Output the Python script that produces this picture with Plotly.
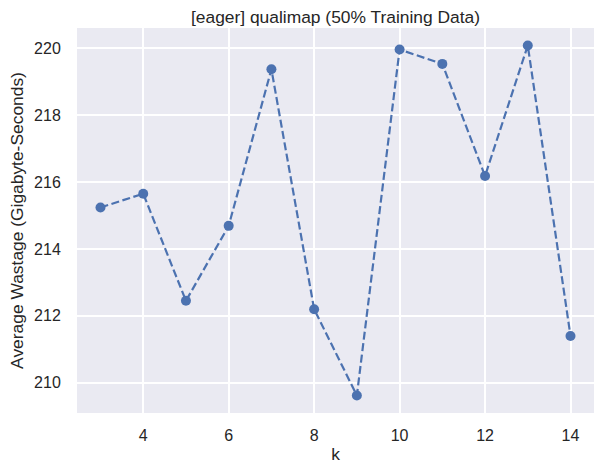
import plotly.graph_objects as go

k_values = [3, 4, 5, 6, 7, 8, 9, 10, 11, 12, 13, 14]
avg_wastage = [215.24, 215.65, 212.45, 214.69, 219.37, 212.20, 209.62, 219.96, 219.53, 216.18, 220.08, 211.40]
y_ticks = [210, 212, 214, 216, 218, 220]
x_ticks = [4, 6, 8, 10, 12, 14]

blue = "#4C72B0"
text_color = "#262626"
font_family = "Liberation Sans, Arial, sans-serif"

def padded(vals, frac=0.05):
    lo, hi = min(vals), max(vals)
    p = (hi - lo) * frac
    return [lo - p, hi + p]

fig = go.Figure()
fig.add_trace(go.Scatter(
    x=k_values, y=avg_wastage, mode="lines+markers",
    line=dict(color=blue, width=2.2, dash="8px,3.5px"),
    marker=dict(color=blue, size=10),
    showlegend=False,
))

fig.update_layout(
    width=597, height=466,
    margin=dict(l=77, r=3, t=28, b=53),
    paper_bgcolor="white",
    plot_bgcolor="#EAEAF2",
    font=dict(family=font_family, color=text_color, size=16),
    title=dict(
        text="[eager] qualimap (50% Training Data)",
        x=(77 + 594) / 2 / 597, xanchor="center",
        y=1 - 16.5 / 466, yanchor="middle",
        font=dict(size=17.4, color=text_color, family=font_family),
    ),
    xaxis=dict(
        range=padded(k_values), tickvals=x_ticks,
        showgrid=True, gridcolor="white", gridwidth=1.5,
        zeroline=False, showline=False,
        ticks="outside", ticklen=8, tickcolor="rgba(0,0,0,0)",
        tickfont=dict(size=16),
        title=dict(text="k", font=dict(size=17.4), standoff=4),
        automargin=False,
    ),
    yaxis=dict(
        range=padded(avg_wastage), tickvals=y_ticks,
        showgrid=True, gridcolor="white", gridwidth=1.5,
        zeroline=False, showline=False,
        ticks="outside", ticklen=12, tickcolor="rgba(0,0,0,0)",
        tickfont=dict(size=16),
        title=dict(text="Average Wastage (Gigabyte-Seconds)", font=dict(size=17.4), standoff=6),
        automargin=False,
    ),
)

fig.write_html("out.html", config={"displayModeBar": False},
               post_script="document.body.style.margin='0';")
